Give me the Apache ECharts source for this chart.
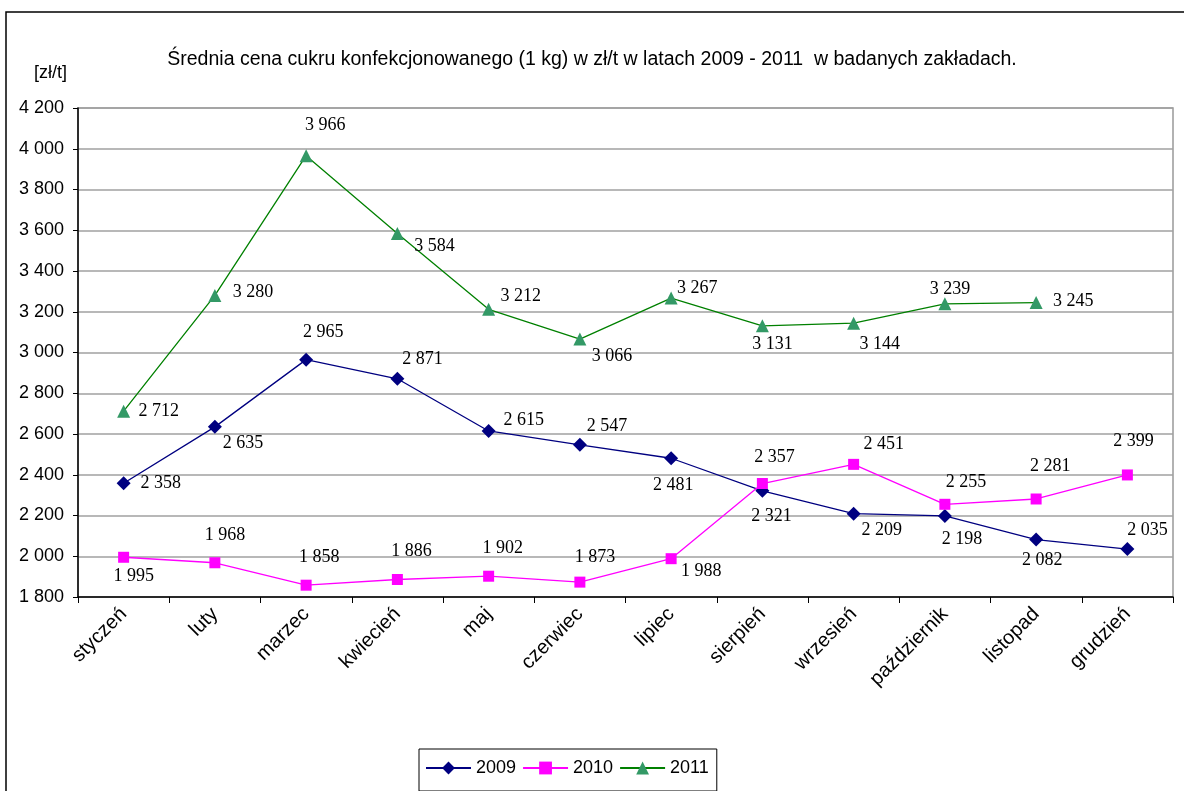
<!DOCTYPE html>
<html>
<head>
<meta charset="utf-8">
<script src="https://cdn.jsdelivr.net/npm/echarts@6/dist/echarts.min.js"></script>
<style>
  html, body { margin: 0; padding: 0; background: #fff; }
  #chart { width: 1184px; height: 791px; }
</style>
</head>
<body>
<div id="chart"></div>
<script>
const months = ['styczeń', 'luty', 'marzec', 'kwiecień', 'maj', 'czerwiec',
  'lipiec', 'sierpień', 'wrzesień', 'październik', 'listopad', 'grudzień']
const yTicks = { min: 1800, max: 4200, step: 200 }

const v2009 = [2358, 2635, 2965, 2871, 2615, 2547, 2481, 2321, 2209, 2198, 2082, 2035]
const v2010 = [1995, 1968, 1858, 1886, 1902, 1873, 1988, 2357, 2451, 2255, 2281, 2399]
const v2011 = [2712, 3280, 3966, 3584, 3212, 3066, 3267, 3131, 3144, 3239, 3245]

// where each value label sits relative to its marker (as in the original)
const off2009 = [[37, 0], [28, 16], [17, -27], [25, -20], [35, -11], [27, -19],
  [2, 27], [9, 25], [28, 17], [17, 23], [6, 21], [20, -19]]
const off2010 = [[10, 19], [10, -28], [13, -28], [14, -28], [14, -28], [15, -25],
  [30, 13], [12, -26], [30, -20], [21, -22], [14, -33], [6, -34]]
const off2011 = [[35, 0], [38, -3], [19, -30], [37, 13], [32, -13], [32, 17],
  [26, -10], [10, 18], [26, 21], [5, -15], [37, -1]]

const fmt = v => String(v).replace(/\B(?=(\d{3})+(?!\d))/g, ' ')

const withLabels = (vals, offs) => vals.map((v, i) => ({
  value: v,
  label: { offset: offs[i] }
}))

const labelStyle = {
  show: true,
  position: 'inside',
  fontFamily: 'Liberation Serif',
  fontSize: 18,
  color: '#000',
  formatter: p => fmt(p.value)
}

const chart = echarts.init(document.getElementById('chart'))
chart.setOption({
  animation: false,
  title: {
    text: 'Średnia cena cukru konfekcjonowanego (1 kg) w zł/t w latach 2009 - 2011  w badanych zakładach.',
    left: 'center',
    top: 45,
    textStyle: { fontFamily: 'Liberation Sans', fontSize: 19.5, fontWeight: 'normal', color: '#000' }
  },
  graphic: [
    {
      type: 'rect',
      shape: { x: 6, y: 12, width: 1300, height: 900 },
      style: { fill: 'none', stroke: '#000', lineWidth: 1.5 },
      silent: true
    },
    {
      type: 'text',
      left: 34, top: 64,
      style: { text: '[zł/t]', font: '18px "Liberation Sans"', fill: '#000' }
    }
  ],
  legend: {
    left: 419,
    top: 749,
    padding: [10, 8, 14, 6],
    itemWidth: 45,
    itemHeight: 16,
    itemGap: 6,
    borderColor: '#000',
    borderWidth: 1,
    textStyle: { fontFamily: 'Liberation Sans', fontSize: 18, color: '#000' },
    data: ['2009', '2010', '2011']
  },
  grid: {
    left: 78, right: 11, top: 108, bottom: 194,
    show: true, borderColor: '#999', borderWidth: 1.5
  },
  xAxis: {
    type: 'category',
    data: months,
    boundaryGap: true,
    axisLine: { lineStyle: { color: '#000', width: 1.5 } },
    axisTick: { show: true, length: 6, lineStyle: { color: '#000' } },
    axisLabel: {
      rotate: 45,
      margin: 14,
      interval: 0,
      fontFamily: 'Liberation Sans',
      fontSize: 20,
      color: '#000'
    }
  },
  yAxis: {
    type: 'value',
    min: yTicks.min,
    max: yTicks.max,
    interval: yTicks.step,
    axisLine: { show: true, lineStyle: { color: '#000', width: 1.5 } },
    axisTick: { show: true, length: 5, lineStyle: { color: '#000' } },
    splitLine: { lineStyle: { color: '#a0a0a0', width: 1.5 } },
    axisLabel: {
      margin: 14,
      fontFamily: 'Liberation Sans',
      fontSize: 18,
      color: '#000',
      formatter: fmt
    }
  },
  series: [
    {
      name: '2009',
      type: 'line',
      data: withLabels(v2009, off2009),
      symbol: 'diamond',
      symbolSize: 14,
      itemStyle: { color: '#000080' },
      lineStyle: { color: '#000080', width: 1.3 },
      label: labelStyle
    },
    {
      name: '2010',
      type: 'line',
      data: withLabels(v2010, off2010),
      symbol: 'rect',
      symbolSize: 11,
      itemStyle: { color: '#ff00ff' },
      lineStyle: { color: '#ff00ff', width: 1.3 },
      label: labelStyle
    },
    {
      name: '2011',
      type: 'line',
      data: withLabels(v2011, off2011),
      symbol: 'triangle',
      symbolSize: 13,
      itemStyle: { color: '#339966' },
      lineStyle: { color: '#008000', width: 1.3 },
      label: labelStyle
    }
  ]
})
</script>
</body>
</html>
